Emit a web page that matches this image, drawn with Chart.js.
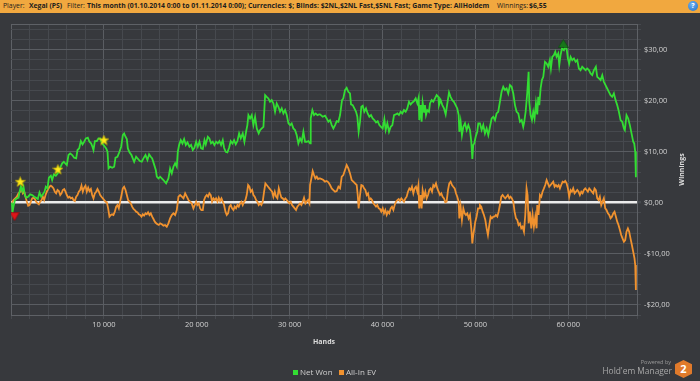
<!DOCTYPE html>
<html>
<head>
<meta charset="utf-8">
<script src="https://cdn.jsdelivr.net/npm/chart.js@4.4.1/dist/chart.umd.min.js"></script>
<style>
  html, body { margin:0; padding:0; background:#37393d; }
  #wrap { position:relative; width:700px; height:381px; overflow:hidden; background:#37393d; font-family:"Open Sans", sans-serif; }
  #hdr { position:absolute; left:0; top:0; width:700px; height:13px; background:#f1a83f; }
  #hdr span { position:absolute; top:0; line-height:12.5px; font-size:6.85px; color:#1d1d1d; white-space:nowrap; }
  #hdr .b { font-weight:700; }
  #help { position:absolute; left:688px; top:1px; width:10px; height:10px; border-radius:50%;
          background:radial-gradient(circle at 40% 35%, #6fb2f2, #1f6fc4); color:#fff; font:bold 7px "Open Sans"; text-align:center; line-height:10px; }
  canvas { position:absolute; left:0; top:0; }
  .lg { position:absolute; font-size:8px; color:#cfcfcf; line-height:10px; top:367px; white-space:nowrap; }
  .sq { position:absolute; width:5px; height:5px; top:370px; }
  #pw { position:absolute; right:29px; top:358px; font-size:5.5px; color:#9a9a9a; line-height:8px; }
  #hm { position:absolute; right:28px; top:365px; font-size:8.4px; color:#a8a8a8; line-height:11px; white-space:nowrap; }
  #hex { position:absolute; left:675px; top:360px; width:17px; height:18px; background:#e07a2b;
         clip-path:polygon(50% 0, 100% 24%, 100% 76%, 50% 100%, 0 76%, 0 24%);
         color:#fff; font:bold 11px "Open Sans"; text-align:center; line-height:18px; }
</style>
</head>
<body>
<div id="wrap">
  <div id="hdr">
    <span style="left:3px">Player:</span>
    <span class="b" style="left:29px">Xegai (PS)</span>
    <span style="left:67px">Filter:</span>
    <span class="b" style="left:87px">This month (01.10.2014 0:00 to 01.11.2014 0:00); Currencies: $; Blinds: $2NL,$2NL Fast,$5NL Fast; Game Type: AllHoldem</span>
    <span style="left:497px">Winnings:</span>
    <span class="b" style="left:529px">$6,55</span>
    <div id="help">?</div>
  </div>
  <canvas id="c" width="700" height="381"></canvas>
  <div class="sq" style="left:293px;background:#33dd33"></div>
  <div class="lg" style="left:300px">Net Won</div>
  <div class="sq" style="left:339px;background:#f0922f"></div>
  <div class="lg" style="left:346px">All-In EV</div>
  <div id="pw">Powered by</div>
  <div id="hm">Hold'em Manager</div>
  <div id="hex">2</div>
</div>
<script>
// ---- data ----
const netWonHands = [
  90,170,270,420,630,810,920,1060,1210,1350,
  1490,1640,1850,2070,2280,2500,2710,2890,3070,3250,
  3430,3610,3750,3930,4080,4290,4430,4610,4830,5040,
  5300,5510,5690,5870,6010,6190,6370,6590,6800,7020,
  7160,7340,7520,7700,7880,8060,8270,8450,8630,8770,
  8880,9030,9240,9420,9600,9810,10030,10250,10390,10500,
  10680,10890,11110,11250,11460,11680,11860,12040,12180,12330,
  12470,12580,12760,12970,13110,13260,13470,13690,13870,14080,
  14260,14480,14690,14870,15050,15200,15370,15590,15700,15880,
  16060,16410,16700,16950,17130,17310,17490,17670,17850,17960,
  18100,18280,18460,18640,18820,19000,19210,19390,19570,19750,
  19930,20110,20290,20470,20650,20830,20970,21190,21360,21540,
  21720,21900,22080,22260,22440,22620,22800,22940,23120,23300,
  23480,23660,23840,24020,24200,24380,24560,24740,24950,25130,
  25310,25450,25560,25740,25920,26100,26280,26460,26670,26820,
  27000,27180,27360,27530,27710,27890,28070,28250,28430,28610,
  28790,28970,29150,29330,29510,29690,29870,30050,30220,30400,
  30580,30760,30940,31120,31300,31480,31660,31840,32020,32200,
  32270,32450,32630,32810,32990,33170,33270,33560,33810,33990,
  34170,34350,34530,34710,34890,35070,35250,35430,35530,35640,
  35780,35960,36140,36320,36500,36610,36790,36970,37150,37290,
  37430,37580,37720,37870,38040,38220,38400,38580,38760,38940,
  39120,39300,39480,39660,39840,40020,40200,40340,40520,40700,
  40880,41060,41240,41420,41600,41770,41950,42130,42310,42490,
  42670,42850,43030,43210,43390,43570,43750,43890,43960,44110,
  44210,44320,44470,44570,44680,44820,45000,45110,45290,45470,
  45650,45830,46010,46080,46260,46440,46620,46800,46980,47160,
  47330,47510,47690,47870,48050,48200,48270,48410,48550,48700,
  48880,49060,49240,49420,49560,49670,49770,49880,50030,50200,
  50310,50490,50670,50850,51030,51210,51390,51570,51750,51930,
  52110,52280,52460,52640,52820,53000,53180,53360,53540,53720,
  53900,54080,54260,54440,54620,54800,54980,55150,55260,55410,
  55580,55730,55800,55940,56090,56230,56370,56520,56660,56770,
  56880,57020,57160,57310,57490,57670,57840,58020,58130,58280,
  58450,58600,58740,58920,59030,59170,59320,59530,59670,59820,
  59960,60100,60250,60430,60610,60790,60970,61140,61320,61500,
  61680,61860,62040,62220,62400,62580,62760,62870,62970,63120,
  63300,63480,63660,63830,64010,64190,64370,64550,64730,64910,
  65090,65270,65450,65630,65810,65990,66090,66270,66450,66630,
  66810,66990,67100,67210,67280
];
const netWonValues = [
  0,-1.76,-0.78,0.52,0.85,0.98,2.15,3.13,2.28,3.13,
  1.5,0.98,1.17,1.63,1.5,1.17,0.98,0.72,2.02,1.17,
  1.63,2.15,3.13,2.8,4.89,5.28,4.44,5.54,5.28,5.74,
  6.85,7.7,8.02,7.63,7.37,9.33,9.65,9.33,8.81,8.68,
  10.31,10.63,12.07,11.42,11.94,12.59,12.72,11.94,11.61,10.96,
  10.31,12.07,12.07,12.59,12.59,11.61,11.15,10.63,9.98,6.72,
  7.05,6.85,7.05,8.81,9.0,9.98,10.96,13.24,13.57,12.92,
  12.46,10.63,9.85,9.33,8.68,8.02,9.0,8.55,8.15,8.02,
  8.68,9.33,8.35,9.46,9.0,8.68,7.7,6.39,5.09,4.76,
  5.09,4.44,3.78,4.76,6.72,5.74,7.05,7.7,7.05,9.98,
  11.29,12.26,11.61,12.46,11.29,11.81,10.96,11.29,10.31,10.76,
  11.94,10.96,11.94,10.63,10.5,12.26,11.42,12.92,12.59,11.61,
  11.94,11.29,11.94,11.61,12.07,11.29,12.26,10.76,9.98,9.85,
  10.76,12.07,11.61,12.26,11.42,12.07,13.57,12.59,13.57,11.94,
  13.89,15.2,17.16,16.5,17.16,15.2,16.83,14.55,13.57,14.22,
  14.55,14.87,21.07,20.74,20.42,19.77,20.09,19.44,17.81,19.44,
  18.79,17.81,18.46,17.48,18.13,17.16,15.53,15.2,15.53,14.55,
  14.22,13.24,11.61,12.59,11.94,13.89,11.94,11.94,12.07,11.61,
  16.5,18.13,17.16,17.48,17.16,17.29,17.29,16.83,17.03,16.5,
  15.85,16.18,15.2,14.55,15.2,15.98,15.85,17.16,17.16,20.09,
  20.42,22.05,22.5,21.72,21.4,19.24,19.11,18.46,17.81,16.83,
  13.89,15.85,18.79,18.98,17.81,18.46,17.48,16.83,17.16,16.5,
  16.18,15.72,15.98,15.2,14.87,14.55,16.37,14.22,15.53,13.89,
  14.87,15.2,17.16,17.29,17.48,17.16,17.81,17.48,18.13,17.81,
  18.46,19.77,19.24,19.63,19.9,20.42,19.44,20.55,16.18,19.11,
  15.85,19.63,17.81,19.11,17.16,18.13,17.81,19.44,20.09,19.77,
  20.42,21.07,20.74,19.11,20.09,19.11,18.46,17.29,19.44,21.59,
  20.74,20.09,19.77,19.11,18.46,17.16,13.89,15.85,13.24,14.87,
  15.53,14.22,15.2,14.22,11.94,8.55,11.29,11.61,12.92,13.89,
  15.53,15.53,14.22,15.2,13.57,14.55,13.24,14.87,16.5,16.83,
  16.18,17.48,17.81,19.77,21.72,22.7,22.05,22.37,21.4,23.03,
  22.7,21.4,19.11,17.81,17.48,15.85,16.18,14.87,15.85,17.81,
  21.4,25.64,19.77,17.16,16.18,17.81,16.5,19.44,17.29,20.74,
  19.11,22.37,24.01,24.66,27.59,27.27,26.61,27.92,26.29,28.57,
  28.9,29.55,28.57,29.22,26.94,28.9,30.2,29.88,30.53,30.2,
  28.25,27.27,28.57,27.92,28.25,27.59,27.92,26.29,25.96,26.61,
  26.29,25.96,26.29,25.96,25.31,24.98,25.96,26.29,26.61,24.66,
  24.33,24.01,24.98,23.68,23.03,22.37,21.72,21.07,20.74,21.4,
  20.09,19.11,17.81,16.18,15.85,14.55,14.22,17.16,16.5,15.2,
  13.57,11.94,11.61,9.98,5.0
];
const allInEvHands = [
  90,270,450,630,810,990,1130,1280,1420,1560,
  1710,1850,2000,2140,2280,2430,2570,2710,2860,3000,
  3140,3290,3430,3570,3720,3860,4000,4150,4290,4430,
  4580,4720,4860,5010,5150,5300,5440,5580,5730,5870,
  6010,6160,6300,6440,6590,6730,6870,7020,7160,7300,
  7450,7590,7730,7880,8020,8160,8310,8450,8600,8740,
  8880,9030,9170,9310,9460,9600,9740,9890,10030,10170,
  10320,10460,10600,10750,10890,11030,11180,11320,11460,11610,
  11750,11900,12040,12180,12330,12470,12610,12760,12900,13040,
  13190,13330,13470,13620,13760,13900,14050,14190,14330,14480,
  14620,14760,14910,15050,15200,15340,15480,15630,15770,15910,
  16060,16240,16410,16590,16770,16950,17130,17310,17490,17670,
  17850,18030,18210,18390,18570,18750,18930,19110,19280,19460,
  19640,19790,19930,20070,20220,20360,20500,20650,20790,20930,
  21080,21220,21360,21510,21650,21800,21940,22080,22230,22370,
  22510,22660,22800,22940,23090,23230,23370,23520,23660,23800,
  23950,24090,24230,24380,24520,24660,24810,24950,25100,25240,
  25380,25530,25670,25810,25960,26100,26240,26390,26530,26670,
  26820,26960,27100,27250,27390,27530,27680,27820,27960,28110,
  28250,28400,28540,28680,28830,28970,29110,29260,29400,29540,
  29690,29830,29970,30120,30260,30400,30550,30690,30830,30980,
  31120,31270,31410,31550,31700,31840,31980,32130,32200,32340,
  32480,32630,32770,32920,33060,33200,33270,33450,33630,33810,
  33990,34170,34350,34530,34710,34890,35070,35250,35430,35610,
  35780,35960,36140,36320,36500,36680,36860,37040,37220,37330,
  37430,37580,37720,37870,38010,38150,38300,38440,38580,38730,
  38870,39010,39160,39300,39440,39590,39730,39870,40020,40160,
  40300,40450,40590,40730,40880,41020,41170,41310,41450,41600,
  41740,41880,42030,42170,42310,42460,42600,42740,42890,43030,
  43170,43320,43460,43600,43750,43860,43960,44110,44210,44320,
  44470,44610,44750,44900,45040,45180,45330,45470,45610,45760,
  45900,46040,46190,46330,46470,46620,46760,46900,47050,47190,
  47330,47480,47620,47770,47910,48050,48200,48270,48410,48550,
  48700,48840,48980,49130,49270,49420,49560,49670,49770,49880,
  49990,50130,50280,50420,50490,50630,50780,50920,51070,51210,
  51350,51500,51640,51780,51930,52070,52210,52360,52500,52640,
  52790,52930,53070,53220,53360,53500,53650,53790,53930,54080,
  54220,54370,54510,54650,54800,54940,55080,55230,55370,55510,
  55620,55730,55870,56020,56160,56300,56450,56590,56660,56800,
  56950,57090,57230,57380,57520,57670,57810,57950,58100,58240,
  58380,58530,58670,58810,58960,59100,59240,59390,59530,59670,
  59820,59960,60100,60250,60390,60530,60680,60820,60970,61110,
  61250,61400,61540,61680,61830,61970,62110,62260,62400,62540,
  62690,62830,62970,63120,63260,63400,63550,63690,63830,63980,
  64120,64270,64410,64550,64700,64840,64980,65130,65270,65410,
  65560,65700,65840,65990,66130,66270,66420,66560,66700,66850,
  66990,67130,67210,67280
];
const allInEvValues = [
  0,0.52,0.85,1.17,1.83,2.15,2.8,1.83,2.15,1.17,
  0.2,-0.59,-0.46,0.2,0.85,0.98,0.72,0.2,-0.13,-0.33,
  0.2,0.52,1.17,0.52,1.5,2.15,2.67,3.13,3.33,3.13,
  2.8,2.15,1.83,2.48,2.28,1.5,1.83,2.48,2.67,2.15,
  1.5,0.98,1.17,0.85,0.98,0.52,0.33,1.17,1.5,2.15,
  2.48,3.33,2.15,2.94,3.33,2.15,2.94,2.28,2.67,1.5,
  0.85,1.83,2.15,2.67,2.15,1.5,1.17,0.85,0.52,0.2,
  0.07,-1.11,-2.74,-2.41,-2.28,-2.41,-1.76,-0.78,-0.46,-1.11,
  0.2,1.5,2.8,3.13,2.48,1.5,0.52,0.2,-0.13,-0.78,
  -1.24,-1.44,-1.76,-1.89,-2.28,-2.41,-2.74,-2.28,-2.54,-2.09,
  -2.28,-1.89,-2.41,-2.09,-2.74,-3.2,-3.72,-4.04,-4.24,-4.37,
  -4.04,-4.24,-4.5,-4.37,-4.7,-4.04,-3.07,-2.41,-2.09,-2.41,
  -1.44,1.17,1.5,1.17,0.85,1.83,1.17,0.52,0.2,-0.13,
  -1.11,-0.46,0.2,-0.46,-0.13,-1.11,-1.44,-1.44,0.52,1.17,
  1.5,1.17,1.83,1.5,0.2,0.85,0.52,0.85,0.2,0.98,
  0.33,0.85,0.2,-0.46,-1.76,-2.41,-2.09,-0.78,-0.46,-1.11,
  -1.44,-0.78,-1.11,-0.46,-0.78,-0.13,0.2,-0.46,0.2,0.52,
  1.5,3.46,3.13,2.15,2.48,1.5,1.17,0.52,0.2,-0.46,
  -0.13,-0.46,0.2,2.15,3.78,3.46,3.13,2.8,2.48,2.15,
  1.17,2.15,1.17,0.85,2.8,1.83,0.98,0.85,0.52,0.85,
  0.52,0.2,-0.13,0.2,-0.46,-0.78,-1.11,-1.44,-0.78,-0.46,
  -0.13,-0.46,0.2,0.98,-0.13,0.2,0.52,-0.13,3.46,4.76,
  6.2,5.41,4.76,5.09,4.63,4.76,4.76,4.63,4.44,4.11,
  4.24,3.98,3.46,2.8,2.48,2.15,2.28,3.13,2.8,5.09,
  5.41,6.39,7.37,6.72,5.74,4.44,4.11,3.78,3.46,1.5,
  -1.11,1.5,3.46,3.33,2.8,2.48,1.5,1.83,0.52,0.85,
  0.52,-0.13,-0.46,-0.78,-0.46,-1.11,-1.24,-1.76,-1.11,-2.09,
  -1.44,-2.41,-1.76,-2.09,-1.11,-0.78,-1.44,-0.46,0.2,0.52,
  0.72,0.33,0.85,0.52,0.2,0.85,1.17,2.15,2.8,2.48,
  3.13,1.83,2.8,3.13,2.15,3.33,-1.11,1.5,-1.11,2.48,
  1.17,2.15,0.85,1.5,2.48,2.8,2.15,3.46,3.13,3.78,
  2.8,2.15,1.5,1.83,1.17,0.85,0.07,0.2,2.48,3.78,
  4.11,3.46,3.13,2.8,1.83,1.17,0.2,-3.07,-0.78,-3.39,
  -1.11,-2.09,-2.41,-2.09,-3.07,-2.41,-5.02,-7.96,-6.33,-5.02,
  -3.72,-2.74,-1.11,-1.11,-0.46,-0.78,-1.76,-2.41,-3.39,-5.02,
  -6.33,-4.37,-2.74,-3.07,-2.74,-2.74,-2.41,-2.74,-1.76,-0.46,
  1.17,1.5,1.17,0.85,1.17,1.5,0.85,1.17,0.85,0.2,
  -1.76,-3.07,-3.39,-4.37,-4.04,-5.02,-4.7,-5.68,-2.41,2.8,
  1.5,-4.04,-1.76,-5.02,-2.41,-4.7,-2.74,-5.02,-0.46,-2.41,
  1.5,1.17,2.15,2.8,3.46,4.44,3.78,3.13,3.46,3.78,
  4.11,3.13,3.46,3.13,3.46,2.8,3.46,4.11,3.98,4.24,
  3.78,2.8,1.17,2.48,2.15,2.8,1.83,2.15,2.48,2.15,
  1.5,2.15,1.83,2.48,2.8,2.48,2.15,2.8,2.48,2.15,
  1.83,2.8,2.48,0.85,0.52,1.17,-0.46,0.2,0.85,-1.11,
  -1.44,-2.09,-2.41,-3.07,-2.74,-2.09,-1.76,-2.74,-3.72,-4.37,
  -5.35,-6.33,-6.98,-7.63,-7.31,-5.68,-5.02,-5.68,-6.98,-8.28,
  -9.59,-10.89,-12.2,-17.09
];
// milestone markers
const starHands = [990, 5050, 10000];
const starValues = [4.11, 6.54, 12.27];
const lowHands = [380];
const lowValues = [-2.74];
const highHands = [59460];
const highValues = [31.19];

// axis ranges and tick positions
const handsMin = 0, handsMax = 67400, handsStep = 2000, handsLabelStep = 10000;
const winMin = -22, winMax = 35, winStep = 2, winLabelStep = 10;

// ---- styling helpers ----
const MINOR = '#46494e', MAJOR = '#5a5d62', EDGE = '#5e6166';

function shapeCanvas(w, h, draw) {
  const c = document.createElement('canvas');
  c.width = w; c.height = h;
  draw(c.getContext('2d'), w, h);
  return c;
}
const starImg = shapeCanvas(11, 11, (g, w, h) => {
  g.beginPath();
  for (let i = 0; i < 10; i++) {
    const r = i % 2 ? 2.2 : 5.3, a = -Math.PI / 2 + i * Math.PI / 5;
    g.lineTo(w / 2 + r * Math.cos(a), h / 2 + 0.4 + r * Math.sin(a));
  }
  g.closePath(); g.fillStyle = '#ffe91a'; g.fill();
  g.strokeStyle = '#c9b400'; g.lineWidth = 0.6; g.stroke();
});
const downImg = shapeCanvas(10, 9, (g, w, h) => {
  g.beginPath(); g.moveTo(0.5, 0.5); g.lineTo(w - 0.5, 0.5); g.lineTo(w / 2, h - 0.5); g.closePath();
  g.fillStyle = '#e0141a'; g.fill(); g.strokeStyle = '#8e0a0a'; g.lineWidth = 0.6; g.stroke();
});
const upImg = shapeCanvas(11, 9, (g, w, h) => {
  g.beginPath(); g.moveTo(w / 2, 0.5); g.lineTo(w - 0.5, h - 0.5); g.lineTo(0.5, h - 0.5); g.closePath();
  g.fillStyle = '#17761a'; g.fill(); g.strokeStyle = '#0c4a0e'; g.lineWidth = 0.6; g.stroke();
});

const toXY = (xs, ys) => xs.map((x, i) => ({x, y: ys[i]}));
const fmtHands = v => String(v).replace(/\B(?=(\d{3})+(?!\d))/g, ' ');
const fmtMoney = v => (v < 0 ? '-$' : '$') + Math.abs(v) + ',00';
const stepTicks = (lo, hi, step) => {
  const t = [];
  for (let v = lo; v < hi - step * 0.01; v += step) t.push({value: v});
  t.push({value: hi});
  return t;
};

const winTitle = {
  id: 'winTitle',
  afterDraw(chart) {
    const g = chart.ctx, a = chart.chartArea;
    g.save();
    g.translate(682, (a.top + a.bottom) / 2);
    g.rotate(-Math.PI / 2);
    g.font = 'bold 7px "Open Sans"';
    g.fillStyle = '#dcdcdc';
    g.textAlign = 'center'; g.textBaseline = 'middle';
    g.fillText('Winnings', 0, 0);
    g.restore();
  }
};

new Chart(document.getElementById('c'), {
  type: 'line',
  data: {
    datasets: [
      { label: 'stars', data: toXY(starHands, starValues), showLine: false, pointStyle: starImg, pointRadius: 5, order: -1 },
      { label: 'low', data: toXY(lowHands, lowValues), showLine: false, pointStyle: downImg, pointRadius: 5, order: -1 },
      { label: 'high', data: toXY(highHands, highValues), showLine: false, pointStyle: upImg, pointRadius: 5, order: -1 },
      { label: 'Net Won', data: toXY(netWonHands, netWonValues), borderColor: '#33dd33', borderWidth: 1.8, pointRadius: 0, tension: 0, fill: false },
      { label: 'All-In EV', data: toXY(allInEvHands, allInEvValues), borderColor: '#f0922f', borderWidth: 1.8, pointRadius: 0, tension: 0, fill: false }
    ]
  },
  options: {
    responsive: false,
    animation: false,
    devicePixelRatio: 1,
    layout: { padding: { left: 11, top: 24, right: 11, bottom: 30 } },
    plugins: { legend: { display: false }, tooltip: { enabled: false } },
    scales: {
      x: {
        type: 'linear', min: handsMin, max: handsMax,
        afterBuildTicks: s => { s.ticks = stepTicks(handsMin, handsMax, handsStep); },
        border: { color: EDGE, width: 1 },
        grid: {
          color: c => {
            const v = c.tick ? c.tick.value : NaN;
            if (v === handsMin) return EDGE;
            return v % handsLabelStep === 0 ? MAJOR : MINOR;
          },
          tickColor: MINOR, tickLength: 4, drawTicks: true
        },
        ticks: {
          autoSkip: false, maxRotation: 0, padding: 1,
          color: '#d2d2d2', font: { family: 'Open Sans', size: 7.5 },
          callback: v => (v > 0 && v % handsLabelStep === 0) ? fmtHands(v) : ''
        },
        title: { display: true, text: 'Hands', color: '#dcdcdc', font: { family: 'Open Sans', size: 7, weight: 'bold' }, padding: { top: 0, bottom: 5 } },
        afterFit: s => { s.height = 36; }
      },
      y: {
        type: 'linear', position: 'right', min: winMin, max: winMax,
        afterBuildTicks: s => { s.ticks = stepTicks(winMin, winMax, winStep); },
        border: { color: EDGE, width: 1 },
        grid: {
          color: c => {
            const v = c.tick ? c.tick.value : NaN;
            if (v === 0) return '#ececec';
            if (v === winMax) return EDGE;
            return v % winLabelStep === 0 ? MAJOR : MINOR;
          },
          lineWidth: c => (c.tick && c.tick.value === 0) ? 2.4 : 1,
          tickColor: MINOR, tickLength: 4, drawTicks: true
        },
        ticks: {
          autoSkip: false, padding: 3,
          color: '#d2d2d2', font: { family: 'Open Sans', size: 7.5 },
          callback: v => (v % winLabelStep === 0) ? fmtMoney(v) : ''
        },
        afterFit: s => { s.width = 52; }
      }
    }
  },
  plugins: [winTitle]
});
</script>
</body>
</html>
